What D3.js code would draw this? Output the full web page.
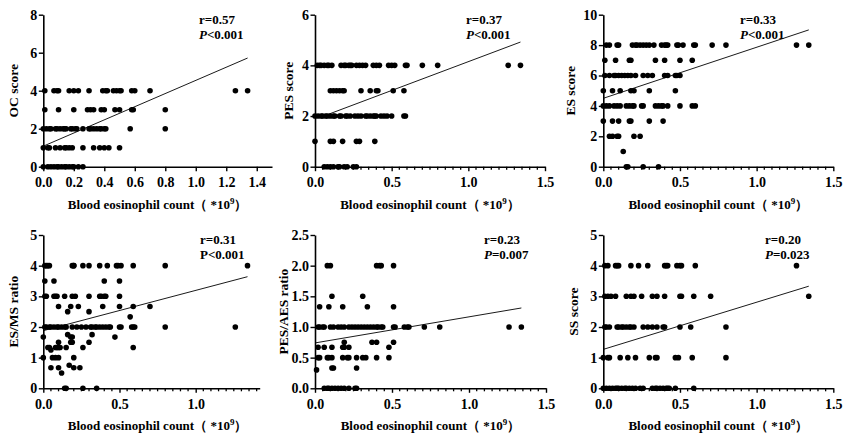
<!DOCTYPE html>
<html>
<head>
<meta charset="utf-8">
<script src="https://cdn.jsdelivr.net/npm/d3@7"></script>
<style>
  body { margin: 0; background: #fff; }
  svg text { font-family: "Liberation Serif", "Times New Roman", serif; font-weight: bold; fill: #000; }
</style>
</head>
<body>
<svg id="chart" width="844" height="437"></svg>
<script>
// données : [score, [comptes d'éosinophiles]]
const ocScore = [
  [4, [0.01, 0.07, 0.09, 0.1, 0.17, 0.2, 0.23, 0.3, 0.39, 0.41, 0.42, 0.46, 0.48, 0.5, 0.51, 0.58, 0.6, 0.7, 1.26, 1.34]],
  [3, [0.01, 0.1, 0.2, 0.29, 0.31, 0.33, 0.38, 0.4, 0.47, 0.5, 0.58, 0.59, 0.8]],
  [2, [0, 0.02, 0.04, 0.05, 0.08, 0.09, 0.11, 0.13, 0.14, 0.15, 0.18, 0.19, 0.21, 0.22, 0.26, 0.3, 0.31, 0.33, 0.35, 0.37, 0.38, 0.4, 0.41, 0.57, 0.8]],
  [1, [0, 0.03, 0.04, 0.08, 0.11, 0.14, 0.15, 0.17, 0.19, 0.26, 0.33, 0.37, 0.4, 0.43, 0.5]],
  [0, [0, 0.03, 0.05, 0.07, 0.09, 0.1, 0.12, 0.14, 0.15, 0.17, 0.19, 0.2, 0.23, 0.26]]
];
const pesScore = [
  [4, [0.015, 0.03, 0.04, 0.06, 0.08, 0.09, 0.11, 0.17, 0.19, 0.2, 0.22, 0.23, 0.24, 0.27, 0.29, 0.31, 0.33, 0.38, 0.4, 0.42, 0.48, 0.5, 0.52, 0.59, 0.6, 0.7, 0.8, 1.26, 1.34]],
  [3, [0.1, 0.12, 0.14, 0.16, 0.18, 0.19, 0.3, 0.36, 0.4, 0.41, 0.51, 0.58]],
  [2, [0, 0.02, 0.04, 0.05, 0.07, 0.08, 0.1, 0.12, 0.13, 0.16, 0.17, 0.2, 0.21, 0.23, 0.26, 0.28, 0.3, 0.33, 0.34, 0.36, 0.38, 0.39, 0.4, 0.43, 0.45, 0.47, 0.5, 0.58, 0.59]],
  [1, [0, 0.1, 0.12, 0.18, 0.27, 0.29, 0.39]],
  [0, [0.06, 0.08, 0.1, 0.12, 0.15, 0.16, 0.19, 0.21, 0.25, 0.27]]
];
const esScore = [
  [8, [0.02, 0.04, 0.09, 0.1, 0.19, 0.21, 0.22, 0.24, 0.26, 0.28, 0.3, 0.33, 0.38, 0.4, 0.41, 0.42, 0.48, 0.49, 0.52, 0.59, 0.6, 0.71, 0.8, 1.26, 1.34]],
  [7, [0.01, 0.08, 0.17, 0.18, 0.34, 0.4, 0.5, 0.58]],
  [6, [0.01, 0.04, 0.07, 0.08, 0.1, 0.12, 0.14, 0.16, 0.18, 0.21, 0.26, 0.29, 0.32, 0.4, 0.42, 0.47, 0.48, 0.5]],
  [5, [0, 0.06, 0.11, 0.18, 0.2, 0.3, 0.47]],
  [4, [0, 0.02, 0.04, 0.07, 0.09, 0.11, 0.15, 0.17, 0.19, 0.2, 0.25, 0.26, 0.34, 0.36, 0.38, 0.39, 0.42, 0.5, 0.58, 0.6]],
  [3, [0, 0.06, 0.1, 0.17, 0.18, 0.3, 0.39]],
  [2, [0.04, 0.06, 0.09, 0.1, 0.2, 0.24]],
  [1, [0.13]],
  [0, [0.15, 0.16, 0.26, 0.36]]
];
const esMsRatio = [
  [4, [0.01, 0.02, 0.03, 0.04, 0.19, 0.2, 0.2, 0.26, 0.3, 0.37, 0.42, 0.48, 0.49, 0.51, 0.59, 0.8, 1.34]],
  [3.5, [0.01, 0.07, 0.4, 0.5]],
  [3, [0.01, 0.02, 0.07, 0.08, 0.09, 0.14, 0.19, 0.21, 0.3, 0.37, 0.38, 0.4, 0.41, 0.5]],
  [2.67, [0.1, 0.18, 0.23, 0.39, 0.5, 0.59, 0.7]],
  [2.5, [0.16, 0.3]],
  [2.33, [0.57]],
  [2, [0.01, 0.02, 0.04, 0.05, 0.07, 0.09, 0.1, 0.12, 0.14, 0.15, 0.19, 0.22, 0.25, 0.28, 0.31, 0.32, 0.34, 0.35, 0.37, 0.39, 0.41, 0.43, 0.44, 0.5, 0.51, 0.58, 0.59, 0.6, 0.8, 1.26]],
  [1.75, [0.16, 0.32]],
  [1.67, [0, 0.18, 0.19, 0.47]],
  [1.5, [0.1, 0.18, 0.19, 0.3]],
  [1.33, [0.03, 0.04, 0.08, 0.09, 0.1, 0.11, 0.15, 0.26, 0.59]],
  [1.25, [0.05]],
  [1, [0, 0.06, 0.08, 0.1, 0.2]],
  [0.75, [0.17]],
  [0.67, [0.05, 0.1, 0.2, 0.24]],
  [0.5, [0.12]],
  [0, [0.14, 0.15, 0.26, 0.35]]
];
const pesAesRatio = [
  [2, [0.08, 0.1, 0.4, 0.42, 0.43, 0.51]],
  [1.5, [0.11, 0.31]],
  [1.33, [0.03, 0.09, 0.18, 0.34, 0.51]],
  [1, [0.02, 0.03, 0.05, 0.06, 0.1, 0.12, 0.15, 0.17, 0.19, 0.22, 0.24, 0.26, 0.28, 0.3, 0.32, 0.34, 0.36, 0.38, 0.4, 0.41, 0.43, 0.44, 0.51, 0.52, 0.58, 0.6, 0.61, 0.71, 0.81, 1.26, 1.34]],
  [0.75, [0.19, 0.37, 0.4, 0.51]],
  [0.67, [0.02, 0.06, 0.11, 0.18, 0.19, 0.22, 0.48]],
  [0.5, [0.02, 0.03, 0.08, 0.09, 0.11, 0.18, 0.21, 0.22, 0.27, 0.31, 0.33, 0.4, 0.48]],
  [0.33, [0.11, 0.12, 0.27]],
  [0.3, [0.01]],
  [0, [0.06, 0.08, 0.09, 0.11, 0.13, 0.15, 0.17, 0.19, 0.22, 0.26, 0.27]]
];
const ssScore = [
  [4, [0.01, 0.03, 0.08, 0.09, 0.1, 0.18, 0.23, 0.29, 0.4, 0.41, 0.42, 0.48, 0.5, 0.51, 0.6, 1.26]],
  [3, [0.01, 0.03, 0.05, 0.08, 0.15, 0.18, 0.2, 0.25, 0.32, 0.35, 0.4, 0.5, 0.51, 0.59, 0.7, 1.34]],
  [2, [0.01, 0.02, 0.04, 0.09, 0.1, 0.12, 0.13, 0.15, 0.17, 0.18, 0.2, 0.26, 0.29, 0.32, 0.35, 0.39, 0.4, 0.5, 0.57, 0.8]],
  [1, [0, 0.03, 0.04, 0.11, 0.16, 0.21, 0.3, 0.34, 0.35, 0.47, 0.49, 0.58, 0.8]],
  [0, [0, 0.02, 0.04, 0.06, 0.08, 0.09, 0.1, 0.12, 0.14, 0.15, 0.17, 0.19, 0.21, 0.24, 0.26, 0.32, 0.34, 0.35, 0.37, 0.39, 0.41, 0.42, 0.43, 0.47, 0.59]]
];

// droites de régression (x, y aux extrémités)
const ocFit = [[0, 1.08], [1.34, 5.72]];
const pesFit = [[0.07, 2.03], [1.34, 4.92]];
const esFit = [[0, 4.5], [1.34, 9.0]];
const esMsFit = [[0, 1.88], [1.34, 3.64]];
const pesAesFit = [[0, 0.74], [1.34, 1.31]];
const ssFit = [[0, 1.27], [1.34, 3.33]];

const yLabels = ["OC score", "PES score", "ES score", "ES/MS ratio", "PES/AES ratio", "SS score"];
const rTexts = ["r=0.57", "r=0.37", "r=0.33", "r=0.31", "r=0.23", "r=0.20"];
const pTexts = ["<0.001", "<0.001", "<0.001", "<0.001", "=0.007", "=0.023"];
const pItalic = [true, true, true, false, true, true];
const yTicks = [[0, 2, 4, 6, 8], [0, 2, 4, 6], [0, 2, 4, 6, 8, 10], [0, 1, 2, 3, 4, 5], [0, 0.5, 1, 1.5, 2, 2.5], [0, 1, 2, 3, 4, 5]];
const xMajor = [[0, 0.2, 0.4, 0.6, 0.8, 1.0, 1.2, 1.4], [0, 0.5, 1.0, 1.5], [0, 0.5, 1.0, 1.5], [0, 0.5, 1.0], [0, 0.5, 1.0, 1.5], [0, 0.5, 1.0, 1.5]];

// mise en page de chaque panneau
const panels = [
  { data: ocScore, fit: ocFit, x0: 43.3, x1: 272, xMax: 1.5, top: 14.7, bottom: 166.7, yMax: 8, minor: false, yLabX: 15, ann: 199 },
  { data: pesScore, fit: pesFit, x0: 315, x1: 545, xMax: 1.5, top: 14.7, bottom: 166.7, yMax: 6, minor: true, yLabX: 290, ann: 466 },
  { data: esScore, fit: esFit, x0: 603.3, x1: 833.3, xMax: 1.5, top: 14.7, bottom: 166.7, yMax: 10, minor: true, yLabX: 572, ann: 740 },
  { data: esMsRatio, fit: esMsFit, x0: 43.3, x1: 259.7, xMax: 1.42, top: 235, bottom: 388.3, yMax: 5, minor: true, yLabX: 15, ann: 200 },
  { data: pesAesRatio, fit: pesAesFit, x0: 315, x1: 546, xMax: 1.5, top: 235, bottom: 388.3, yMax: 2.5, minor: true, yLabX: 285, ann: 484 },
  { data: ssScore, fit: ssFit, x0: 603.3, x1: 833.3, xMax: 1.5, top: 235, bottom: 388.3, yMax: 5, minor: true, yLabX: 575, ann: 765 }
];

const svg = d3.select("#chart");

panels.forEach((p, i) => {
  const g = svg.append("g");
  const x = d3.scaleLinear().domain([0, p.xMax]).range([p.x0, p.x1]);
  const y = d3.scaleLinear().domain([0, p.yMax]).range([p.bottom, p.top]);

  // axe X
  const xAxis = d3.axisBottom(x)
    .tickValues(xMajor[i])
    .tickFormat(d3.format(".1f"))
    .tickSize(4.5)
    .tickSizeOuter(0);
  const gx = g.append("g").attr("transform", `translate(0,${p.bottom})`).call(xAxis);
  if (p.minor) {
    const minorTicks = d3.range(0.05, p.xMax + 0.001, 0.05).filter((v) => Math.abs(v * 2 - Math.round(v * 2)) > 0.01);
    g.append("g").attr("transform", `translate(0,${p.bottom})`)
      .selectAll("line").data(minorTicks).enter().append("line")
      .attr("x1", (d) => x(d)).attr("x2", (d) => x(d))
      .attr("y1", 0).attr("y2", 3)
      .attr("stroke", "#000").attr("stroke-width", 1.3);
  }

  // axe Y
  const yAxis = d3.axisLeft(y)
    .tickValues(yTicks[i])
    .tickFormat(p.yMax === 2.5 ? d3.format(".1f") : d3.format("d"))
    .tickSize(4.5)
    .tickSizeOuter(0);
  const gy = g.append("g").attr("transform", `translate(${p.x0},0)`).call(yAxis);

  [gx, gy].forEach((ax) => {
    ax.select(".domain").attr("stroke", "#000").attr("stroke-width", 1.6);
    ax.selectAll(".tick line").attr("stroke", "#000").attr("stroke-width", 1.4);
    ax.selectAll(".tick text").attr("font-size", 14).attr("font-family", null);
  });
  gx.selectAll(".tick text").attr("dy", "0.95em");
  gy.selectAll(".tick text").attr("dx", "0.1em");

  // titres des axes
  g.append("text")
    .attr("transform", `translate(${p.yLabX},${(p.top + p.bottom) / 2}) rotate(-90)`)
    .attr("text-anchor", "middle")
    .attr("dominant-baseline", "middle")
    .attr("font-size", 13.5)
    .text(yLabels[i]);

  const xt = g.append("text")
    .attr("x", (p.x0 + x(1.5)) / 2)
    .attr("y", p.bottom + 42)
    .attr("text-anchor", "middle")
    .attr("font-size", 13);
  xt.append("tspan").text("Blood eosinophil count（ *10");
  xt.append("tspan").attr("dy", -5).attr("font-size", 9).text("9");
  xt.append("tspan").attr("dy", 5).text("）");

  // points
  const pts = [];
  p.data.forEach(([yv, xs]) => xs.forEach((xv) => pts.push([xv, yv])));
  g.selectAll("circle").data(pts).enter().append("circle")
    .attr("cx", (d) => x(d[0]))
    .attr("cy", (d) => y(d[1]))
    .attr("r", 2.8)
    .attr("fill", "#000");

  // droite de régression
  g.append("line")
    .attr("x1", x(p.fit[0][0])).attr("y1", y(p.fit[0][1]))
    .attr("x2", x(p.fit[1][0])).attr("y2", y(p.fit[1][1]))
    .attr("stroke", "#000").attr("stroke-width", 0.9);

  // annotations r / P
  g.append("text").attr("x", p.ann).attr("y", p.top + 9).attr("font-size", 13).text(rTexts[i]);
  const pt = g.append("text").attr("x", p.ann).attr("y", p.top + 24).attr("font-size", 13);
  pt.append("tspan").attr("font-style", pItalic[i] ? "italic" : "normal").text("P");
  pt.append("tspan").text(pTexts[i]);
});
</script>
</body>
</html>
